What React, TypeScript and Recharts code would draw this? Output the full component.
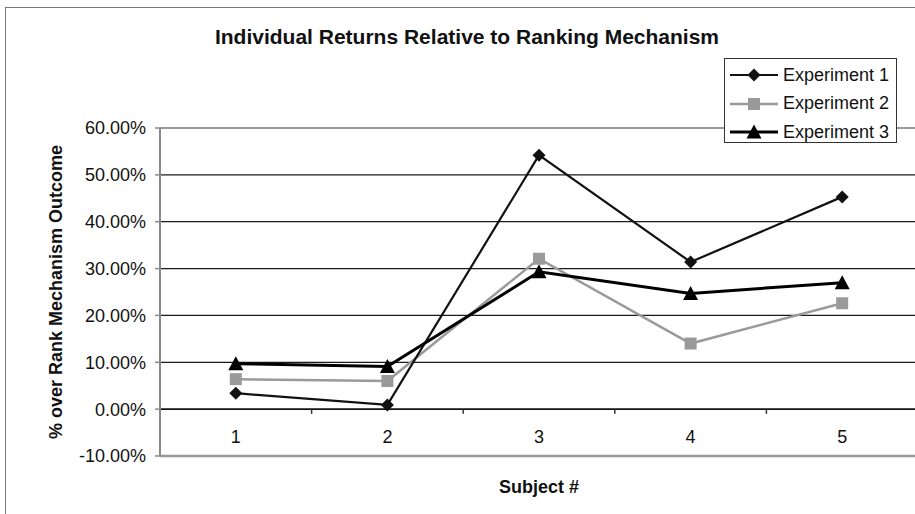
import React from 'react';
import { LineChart, Line, XAxis, YAxis, CartesianGrid, ReferenceLine, Legend } from 'recharts';

// Subjects on the category axis and the return of each experiment (in %)
const subjects = [1, 2, 3, 4, 5];
const experiment1 = [3.4, 0.9, 54.2, 31.4, 45.3];
const experiment2 = [6.4, 6.0, 32.1, 14.0, 22.6];
const experiment3 = [9.7, 9.1, 29.3, 24.7, 27.0];
const yTicks = [-10, 0, 10, 20, 30, 40, 50, 60];
const categoryEdges = [1.5, 2.5, 3.5, 4.5];
const seriesNames = ['Experiment 1', 'Experiment 2', 'Experiment 3'];

const data = subjects.map((s, i) => ({
  subject: s,
  exp1: experiment1[i],
  exp2: experiment2[i],
  exp3: experiment3[i],
}));

const FONT = '"Liberation Sans", Arial, Helvetica, sans-serif';
const DARK = '#111';
const GREY = '#9a9a9a';

const diamondPath = (cx: number, cy: number, r: number) =>
  `M${cx},${cy - r} L${cx + r},${cy} L${cx},${cy + r} L${cx - r},${cy} Z`;
const trianglePath = (cx: number, cy: number) =>
  `M${cx},${cy - 7.5} L${cx + 7.5},${cy + 6.5} L${cx - 7.5},${cy + 6.5} Z`;

const DiamondDot = (p: any) =>
  p.cx == null ? <g key={p.index} /> : <path key={p.index} d={diamondPath(p.cx, p.cy, 6.5)} fill={DARK} />;
const SquareDot = (p: any) =>
  p.cx == null ? <g key={p.index} /> : <rect key={p.index} x={p.cx - 6} y={p.cy - 6} width={12} height={12} fill={GREY} />;
const TriangleDot = (p: any) =>
  p.cx == null ? <g key={p.index} /> : <path key={p.index} d={trianglePath(p.cx, p.cy)} fill="#000" />;

const legendRows = [
  { name: seriesNames[0], color: DARK, width: 2, marker: (cx: number, cy: number) => <path d={diamondPath(cx, cy, 6.5)} fill={DARK} /> },
  { name: seriesNames[1], color: GREY, width: 2.5, marker: (cx: number, cy: number) => <rect x={cx - 6} y={cy - 6} width={12} height={12} fill={GREY} /> },
  { name: seriesNames[2], color: '#000', width: 3, marker: (cx: number, cy: number) => <path d={trianglePath(cx, cy)} fill="#000" /> },
];

const LegendBox = () => (
  <div
    style={{
      width: 173,
      height: 85,
      border: '1.5px solid #333',
      background: '#fff',
      fontFamily: FONT,
      fontSize: 18,
      color: DARK,
      boxSizing: 'border-box',
      paddingTop: 2,
    }}
  >
    {legendRows.map((r) => (
      <div key={r.name} style={{ display: 'flex', alignItems: 'center', height: 28.5 }}>
        <svg width={58} height={20} style={{ flex: 'none' }}>
          <line x1={5} y1={10} x2={53} y2={10} stroke={r.color} strokeWidth={r.width} />
          {r.marker(29, 10)}
        </svg>
        <span style={{ whiteSpace: 'nowrap' }}>{r.name}</span>
      </div>
    ))}
  </div>
);

const XTick = (p: any) => (
  <text x={p.x} y={p.y - 13} textAnchor="middle" fontFamily={FONT} fontSize={18} fill={DARK}>
    {p.payload.value}
  </text>
);

const YLabel = (p: any) => {
  const { x, y, height } = p.viewBox;
  const cx = x + 62;
  const cy = y + height / 2;
  return (
    <text
      x={cx}
      y={cy}
      transform={`rotate(-90, ${cx}, ${cy})`}
      textAnchor="middle"
      fontFamily={FONT}
      fontWeight="bold"
      fontSize={18}
      fill={DARK}
    >
      % over Rank Mechanism Outcome
    </text>
  );
};

const XLabel = (p: any) => {
  const { x, y, width } = p.viewBox;
  return (
    <text x={x + width / 2} y={y + 37} textAnchor="middle" fontFamily={FONT} fontWeight="bold" fontSize={18} fill={DARK}>
      Subject #
    </text>
  );
};

export default function App() {
  return (
    <div style={{ position: 'absolute', left: 0, top: 0, width: 915, height: 514, overflow: 'hidden', background: '#fff' }}>
      <div
        style={{
          position: 'absolute',
          left: 5,
          top: 7,
          width: 1000,
          height: 600,
          border: '1.5px solid #777',
        }}
      />
      <div
        style={{
          position: 'absolute',
          left: 0,
          top: 0,
          width: 934,
          textAlign: 'center',
          fontFamily: FONT,
          fontWeight: 'bold',
          fontSize: 21,
          lineHeight: '24px',
          paddingTop: 25,
          color: DARK,
        }}
      >
        Individual Returns Relative to Ranking Mechanism
      </div>
      <div style={{ position: 'absolute', left: 0, top: 0 }}>
        <LineChart width={918} height={514} data={data} margin={{ top: 128, right: 0, bottom: 0, left: 0 }}>
          <CartesianGrid vertical={false} stroke="#1a1a1a" strokeWidth={1.2} />
          <XAxis
            type="number"
            dataKey="subject"
            domain={[0.5, 5.5]}
            ticks={subjects}
            height={58}
            axisLine={false}
            tickLine={false}
            tickSize={0}
            tickMargin={0}
            tick={<XTick />}
            label={<XLabel />}
          />
          <YAxis
            type="number"
            domain={[-10, 60]}
            ticks={yTicks}
            width={160}
            interval={0}
            axisLine={{ stroke: '#8a8a8a', strokeWidth: 2 }}
            tickLine={{ stroke: '#8a8a8a', strokeWidth: 1.5 }}
            tickSize={5}
            tickMargin={9}
            tickFormatter={(v: number) => `${v.toFixed(2)}%`}
            tick={{ fontFamily: FONT, fontSize: 18, fill: DARK }}
            label={<YLabel />}
          />
          <ReferenceLine y={60} stroke="#999" strokeWidth={2} />
          <ReferenceLine y={-10} stroke="#999" strokeWidth={2.5} />
          <ReferenceLine y={0} stroke="#111" strokeWidth={1.5} />
          {categoryEdges.map((e) => (
            <ReferenceLine
              key={e}
              segment={[
                { x: e, y: 0 },
                { x: e, y: -1 },
              ]}
              stroke="#333"
              strokeWidth={1.5}
            />
          ))}
          <Line
            dataKey="exp2"
            name={seriesNames[1]}
            stroke={GREY}
            strokeWidth={2.5}
            dot={SquareDot}
            activeDot={false}
            isAnimationActive={false}
          />
          <Line
            dataKey="exp1"
            name={seriesNames[0]}
            stroke={DARK}
            strokeWidth={2.2}
            dot={DiamondDot}
            activeDot={false}
            isAnimationActive={false}
          />
          <Line
            dataKey="exp3"
            name={seriesNames[2]}
            stroke="#000"
            strokeWidth={3}
            dot={TriangleDot}
            activeDot={false}
            isAnimationActive={false}
          />
          <Legend
            layout="vertical"
            align="center"
            verticalAlign="middle"
            content={<LegendBox />}
            wrapperStyle={{ left: 724, top: 58, width: 175, height: 87 }}
          />
        </LineChart>
      </div>
    </div>
  );
}
